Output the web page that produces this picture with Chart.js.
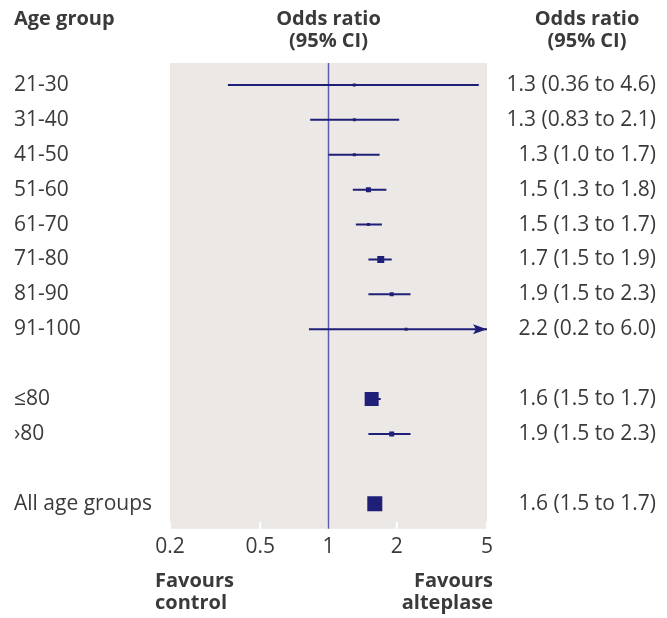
<!DOCTYPE html>
<html>
<head>
<meta charset="utf-8">
<script src="https://cdn.jsdelivr.net/npm/chart.js@4/dist/chart.umd.min.js"></script>
<style>
  html, body { margin: 0; padding: 0; background: #fff; }
  #wrap { width: 667px; height: 618px; position: relative; }
</style>
</head>
<body>
<div id="wrap"><canvas id="forest"></canvas></div>
<script>
// rows, top to bottom ('' = spacer row)
const ageGroups = ['21-30', '31-40', '41-50', '51-60', '61-70', '71-80', '81-90', '91-100', '', '≤80', '›80', '', 'All age groups'];
const oddsRatio = [1.3, 1.3, 1.3, 1.5, 1.5, 1.7, 1.9, 2.2, null, 1.55, 1.9, null, 1.6];
const ciLower = [0.36, 0.83, 1.0, 1.28, 1.32, 1.5, 1.5, 0.82, null, 1.5, 1.5, null, 1.5];
const ciUpper = [4.6, 2.05, 1.68, 1.8, 1.72, 1.9, 2.3, 6.0, null, 1.7, 2.3, null, 1.7];
const orText = ['1.3 (0.36 to 4.6)', '1.3 (0.83 to 2.1)', '1.3 (1.0 to 1.7)', '1.5 (1.3 to 1.8)', '1.5 (1.3 to 1.7)',
  '1.7 (1.5 to 1.9)', '1.9 (1.5 to 2.3)', '2.2 (0.2 to 6.0)', '', '1.6 (1.5 to 1.7)', '1.9 (1.5 to 2.3)', '', '1.6 (1.5 to 1.7)'];
const xTicks = [0.2, 0.5, 1, 2, 5];

// marker side in px (study weight)
const markerSide = [3, 3, 3, 5, 3, 7, 4, 3, 0, 14, 5, 0, 15];

const NAVY = '#1f1f78';
const TEXT = '#3a3a3a';
const FONT = '"Open Sans", sans-serif';

const ciSets = ageGroups.map((g, i) => ({
  data: oddsRatio[i] == null ? [] : [{x: ciLower[i], y: i}, {x: ciUpper[i], y: i}],
  showLine: true,
  borderColor: NAVY,
  borderWidth: 2,
  pointRadius: 0,
  order: 2
}));

const refLine = {
  data: [{x: 1, y: -1}, {x: 1, y: 14}],
  showLine: true,
  borderColor: '#5c5cb0',
  borderWidth: 1.5,
  pointRadius: 0,
  order: 3
};

const markers = {
  data: ageGroups.map((g, i) => ({x: oddsRatio[i], y: i})),
  pointStyle: 'rect',
  pointRadius: markerSide.map(s => s / Math.SQRT2),
  backgroundColor: NAVY,
  borderWidth: 0,
  order: 1
};

const forestDecor = {
  id: 'forestDecor',
  beforeDatasetsDraw(chart) {
    const {ctx, chartArea: a, scales: {x}} = chart;
    ctx.save();
    ctx.fillStyle = '#ebe8e6';
    ctx.fillRect(a.left, a.top, a.right - a.left, a.bottom - a.top);
    ctx.strokeStyle = '#ffffff';
    ctx.lineWidth = 2;
    xTicks.forEach(v => {
      const px = x.getPixelForValue(v);
      ctx.beginPath();
      ctx.moveTo(px, a.bottom - 7);
      ctx.lineTo(px, a.bottom);
      ctx.stroke();
    });
    ctx.restore();
  },
  afterDatasetsDraw(chart) {
    const {ctx, chartArea: a, scales: {x, y}} = chart;
    ctx.save();
    // arrow where the CI runs off the scale
    ageGroups.forEach((g, i) => {
      if (ciUpper[i] != null && ciUpper[i] > x.max) {
        const py = y.getPixelForValue(i);
        ctx.fillStyle = NAVY;
        ctx.beginPath();
        ctx.moveTo(a.right, py);
        ctx.lineTo(a.right - 14, py - 5);
        ctx.lineTo(a.right - 11, py);
        ctx.lineTo(a.right - 14, py + 5);
        ctx.closePath();
        ctx.fill();
      }
    });
    // row labels and OR text
    ctx.fillStyle = TEXT;
    ctx.font = '21px ' + FONT;
    ctx.textBaseline = 'middle';
    ageGroups.forEach((g, i) => {
      const py = y.getPixelForValue(i);
      ctx.textAlign = 'left';
      ctx.fillText(g, 14, py);
      ctx.textAlign = 'right';
      ctx.fillText(orText[i], 656, py);
    });
    // headers
    ctx.font = 'bold 20px ' + FONT;
    ctx.textBaseline = 'alphabetic';
    ctx.textAlign = 'left';
    ctx.fillText('Age group', 14, 25);
    ctx.textAlign = 'center';
    const mid = x.getPixelForValue(1);
    ctx.fillText('Odds ratio', mid, 25);
    ctx.fillText('(95% CI)', mid, 47);
    ctx.fillText('Odds ratio', 587, 25);
    ctx.fillText('(95% CI)', 587, 47);
    // favours
    ctx.textAlign = 'left';
    ctx.fillText('Favours', 155, 587);
    ctx.fillText('control', 155, 609);
    ctx.textAlign = 'right';
    ctx.fillText('Favours', 493, 587);
    ctx.fillText('alteplase', 493, 609);
    ctx.restore();
  }
};

new Chart(document.getElementById('forest').getContext('2d'), {
  type: 'scatter',
  data: {datasets: [...ciSets, refLine, markers]},
  options: {
    responsive: true,
    maintainAspectRatio: false,
    animation: false,
    layout: {padding: {left: 170, right: 180, top: 63, bottom: 52}},
    plugins: {legend: {display: false}, tooltip: {enabled: false}},
    scales: {
      x: {
        type: 'logarithmic',
        min: 0.2,
        max: 5,
        afterBuildTicks: scale => { scale.ticks = xTicks.map(v => ({value: v})); },
        ticks: {
          callback: v => String(v),
          font: {family: FONT, size: 21},
          color: TEXT,
          padding: 6,
          maxRotation: 0,
          autoSkip: false
        },
        grid: {display: false, drawTicks: false},
        border: {display: false}
      },
      y: {
        type: 'linear',
        reverse: true,
        min: -0.63,
        max: 12.72,
        display: false
      }
    }
  },
  plugins: [forestDecor]
});
</script>
</body>
</html>
